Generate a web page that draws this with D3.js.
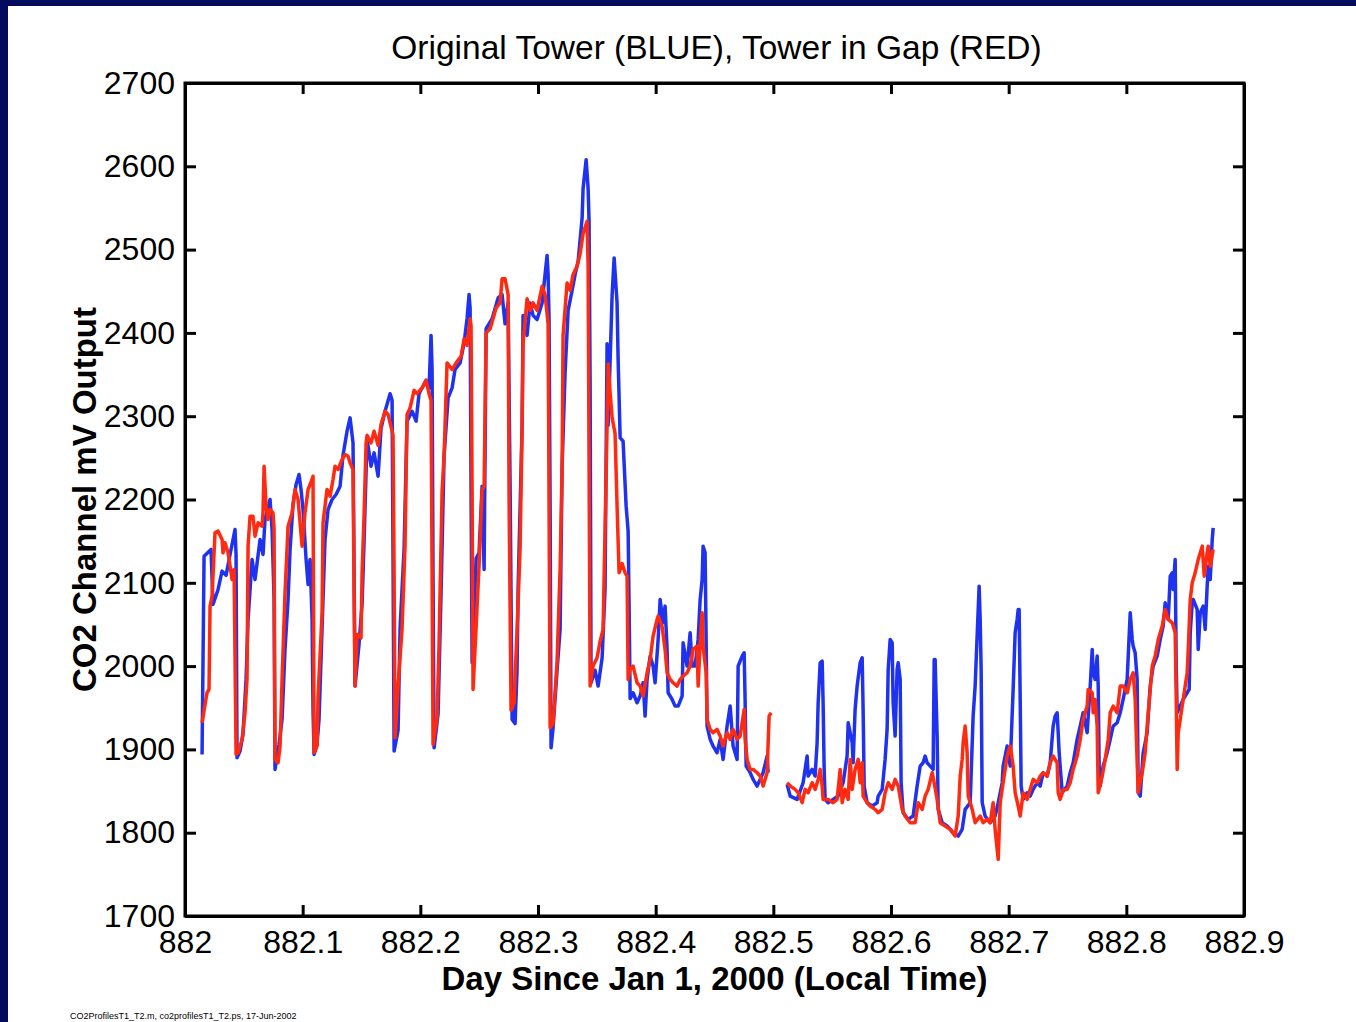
<!DOCTYPE html>
<html>
<head>
<meta charset="utf-8">
<script src="https://cdn.jsdelivr.net/npm/d3@7"></script>
<style>
  html, body { margin: 0; padding: 0; background: #020b5c; }
  svg { display: block; }
  text { font-family: "Liberation Sans", Arial, Helvetica, sans-serif; fill: #000; }
</style>
</head>
<body>
<svg id="chart" width="1356" height="1022"></svg>
<script>
// ---------------- DATA ----------------
const titleText = "Original Tower (BLUE), Tower in Gap (RED)";
const xLabel = "Day Since Jan 1, 2000 (Local Time)";
const yLabel = "CO2 Channel mV Output";
const footerText = "CO2ProfilesT1_T2.m, co2profilesT1_T2.ps, 17-Jun-2002";
const xTicks = [882, 882.1, 882.2, 882.3, 882.4, 882.5, 882.6, 882.7, 882.8, 882.9];
const xTickLabels = ["882", "882.1", "882.2", "882.3", "882.4", "882.5", "882.6", "882.7", "882.8", "882.9"];
const yTicks = [1700, 1800, 1900, 2000, 2100, 2200, 2300, 2400, 2500, 2600, 2700];
const xDomain = [882, 882.9];
const yDomain = [1700, 2700];

// Original Tower (BLUE): [day, mV]; null = no data
const blueSeries = [
[882.0145,1894],[882.0162,2132],[882.0221,2140],[882.0238,2074],[882.0281,2092],[882.0315,2114],[882.0349,2109],[882.0383,2134],[882.0425,2164],[882.0434,2134],
[882.0442,1890],[882.0468,1898],[882.0493,1918],[882.0519,1984],[882.0536,2056],[882.0570,2128],[882.0595,2104],[882.0638,2152],[882.0663,2134],[882.0680,2176],
[882.0723,2200],[882.0740,2164],[882.0757,2080],[882.0765,1876],[882.0799,1906],[882.0825,1936],[882.0850,2020],[882.0876,2080],[882.0893,2140],[882.0918,2194],
[882.0944,2218],[882.0969,2230],[882.0986,2212],[882.1003,2188],[882.1029,2128],[882.1046,2098],[882.1063,2128],[882.1080,2056],[882.1088,1948],[882.1097,1894],
[882.1122,1906],[882.1139,1936],[882.1156,2008],[882.1173,2080],[882.1190,2152],[882.1216,2188],[882.1250,2200],[882.1284,2206],[882.1318,2216],[882.1343,2253],
[882.1377,2282],[882.1403,2298],[882.1428,2268],[882.1437,2116],[882.1445,1976],[882.1479,2026],[882.1505,2075],[882.1522,2150],[882.1547,2273],[882.1581,2240],
[882.1607,2256],[882.1641,2228],[882.1666,2285],[882.1700,2306],[882.1743,2327],[882.1760,2319],[882.1768,2129],[882.1777,1898],[882.1811,1923],[882.1828,2046],
[882.1862,2141],[882.1887,2294],[882.1930,2306],[882.1964,2294],[882.1989,2327],[882.2049,2343],[882.2074,2334],[882.2091,2397],[882.2100,2356],[882.2108,2108],
[882.2117,1902],[882.2151,1943],[882.2176,2087],[882.2202,2253],[882.2236,2322],[882.2270,2334],[882.2295,2356],[882.2338,2364],[882.2372,2388],[882.2397,2417],
[882.2414,2446],[882.2423,2430],[882.2431,2211],[882.2440,2004],[882.2474,2129],[882.2499,2136],[882.2525,2216],[882.2542,2116],[882.2559,2405],[882.2610,2417],
[882.2661,2442],[882.2695,2446],[882.2720,2411],[882.2746,2436],[882.2763,2216],[882.2780,1936],[882.2805,1931],[882.2822,1995],[882.2831,2093],[882.2865,2289],
[882.2873,2421],[882.2907,2397],[882.2933,2436],[882.2958,2421],[882.2992,2416],[882.3035,2436],[882.3060,2470],[882.3077,2493],[882.3086,2470],[882.3094,2416],
[882.3103,2192],[882.3111,1902],[882.3128,1926],[882.3162,1995],[882.3188,2044],[882.3205,2240],[882.3230,2352],[882.3256,2427],[882.3290,2451],[882.3315,2470],
[882.3341,2486],[882.3375,2538],[882.3383,2573],[882.3409,2608],[882.3426,2573],[882.3434,2534],[882.3443,2338],[882.3451,1980],[882.3485,1995],[882.3511,1976],
[882.3545,2010],[882.3570,2093],[882.3587,2387],[882.3596,2289],[882.3630,2446],[882.3647,2490],[882.3672,2436],[882.3681,2368],[882.3698,2274],[882.3723,2270],
[882.3749,2192],[882.3766,2162],[882.3774,2074],[882.3783,1961],[882.3808,1968],[882.3842,1956],[882.3868,1964],[882.3893,1980],[882.3910,1940],[882.3927,1984],
[882.3953,2012],[882.3978,2000],[882.3995,1980],[882.4021,2032],[882.4038,2080],[882.4063,2052],[882.4080,2072],[882.4097,2020],[882.4106,1968],[882.4140,1960],
[882.4165,1952],[882.4191,1952],[882.4225,1964],[882.4233,2028],[882.4267,2000],[882.4293,2040],[882.4310,2000],[882.4335,2000],[882.4361,2032],[882.4378,2080],
[882.4395,2104],[882.4403,2144],[882.4420,2136],[882.4429,2032],[882.4437,1928],[882.4463,1912],[882.4488,1904],[882.4522,1896],[882.4548,1912],[882.4573,1888],
[882.4607,1928],[882.4633,1952],[882.4658,1904],[882.4692,1888],[882.4701,2000],[882.4735,2012],[882.4752,2016],[882.4760,1960],[882.4769,1880],[882.4803,1872],
[882.4828,1864],[882.4862,1856],[882.4888,1864],[882.4913,1872],[882.4947,1892],[882.4956,1872],[882.5030,null],
[882.5117,1858],[882.5143,1844],[882.5202,1840],[882.5253,1860],[882.5287,1892],[882.5296,1868],[882.5330,1876],[882.5355,1868],[882.5372,1908],[882.5381,1956],
[882.5398,2004],[882.5415,2006],[882.5423,1956],[882.5432,1876],[882.5440,1840],[882.5466,1836],[882.5508,1840],[882.5551,1844],[882.5593,1860],[882.5627,1892],
[882.5636,1932],[882.5670,1908],[882.5678,1884],[882.5695,1948],[882.5712,1976],[882.5738,2004],[882.5755,2010],[882.5763,1948],[882.5772,1856],[882.5797,1836],
[882.5840,1832],[882.5882,1836],[882.5891,1844],[882.5925,1852],[882.5950,1888],[882.5967,1924],[882.5976,1996],[882.5993,2032],[882.6010,2028],[882.6018,1956],
[882.6035,1916],[882.6052,1996],[882.6061,2004],[882.6078,1984],[882.6086,1860],[882.6103,1824],[882.6146,1816],[882.6188,1820],[882.6222,1856],[882.6248,1880],
[882.6273,1884],[882.6290,1892],[882.6307,1884],[882.6333,1880],[882.6358,1876],[882.6367,2008],[882.6375,2008],[882.6392,1916],[882.6401,1828],[882.6435,1812],
[882.6477,1808],[882.6528,1800],[882.6571,1796],[882.6605,1804],[882.6630,1828],[882.6673,1836],[882.6698,1940],[882.6715,1976],[882.6732,2036],[882.6749,2096],
[882.6758,2056],[882.6766,1996],[882.6775,1836],[882.6800,1820],[882.6843,1812],[882.6885,1820],[882.6911,1836],[882.6945,1860],[882.6953,1880],[882.6987,1904],
[882.7013,1880],[882.7038,1972],[882.7055,2040],[882.7072,2056],[882.7081,2068],[882.7089,2068],[882.7098,1960],[882.7106,1856],[882.7123,1840],[882.7157,1848],
[882.7183,1844],[882.7208,1852],[882.7242,1860],[882.7268,1856],[882.7293,1872],[882.7327,1868],[882.7353,1884],[882.7378,1928],[882.7395,1940],[882.7412,1944],
[882.7421,1920],[882.7429,1896],[882.7455,1848],[882.7497,1856],[882.7523,1872],[882.7548,1884],[882.7582,1912],[882.7608,1928],[882.7633,1944],[882.7667,1920],
[882.7693,1976],[882.7710,2020],[882.7718,1992],[882.7735,1984],[882.7752,2012],[882.7761,1976],[882.7769,1880],[882.7778,1856],[882.7803,1880],[882.7837,1896],
[882.7863,1912],[882.7888,1928],[882.7922,1932],[882.7948,1944],[882.7973,1960],[882.8007,1984],[882.8033,2064],[882.8050,2032],[882.8058,2024],[882.8075,2016],
[882.8092,1984],[882.8101,1848],[882.8118,1844],[882.8143,1896],[882.8177,1920],[882.8203,1976],[882.8228,2000],[882.8262,2012],[882.8288,2032],[882.8313,2048],
[882.8330,2076],[882.8356,2056],[882.8373,2108],[882.8390,2112],[882.8398,2092],[882.8415,2128],[882.8424,2000],[882.8432,1944],[882.8458,1952],[882.8483,1960],
[882.8517,1968],[882.8534,1972],[882.8543,2040],[882.8560,2076],[882.8568,2080],[882.8602,2068],[882.8611,2020],[882.8628,2064],[882.8653,2072],[882.8670,2044],
[882.8687,2096],[882.8696,2120],[882.8713,2104],[882.8730,2152],[882.8738,2166]
];

// Tower in Gap (RED): [day, mV]; null = no data
const redSeries = [
[882.0145,1932],[882.0187,1968],[882.0204,1972],[882.0213,2072],[882.0230,2084],[882.0255,2160],[882.0281,2162],[882.0315,2152],[882.0323,2136],[882.0340,2148],
[882.0366,2136],[882.0400,2104],[882.0417,2116],[882.0425,2012],[882.0434,1894],[882.0451,1896],[882.0485,1912],[882.0510,1944],[882.0527,1984],[882.0536,2144],
[882.0553,2180],[882.0578,2180],[882.0595,2156],[882.0621,2172],[882.0655,2168],[882.0663,2184],[882.0672,2240],[882.0689,2192],[882.0706,2176],[882.0723,2188],
[882.0748,2184],[882.0757,2164],[882.0765,1888],[882.0791,1884],[882.0808,1904],[882.0825,1984],[882.0850,2088],[882.0876,2168],[882.0910,2184],[882.0935,2212],
[882.0961,2200],[882.0995,2144],[882.1020,2184],[882.1046,2212],[882.1080,2224],[882.1088,2228],[882.1097,1896],[882.1122,1904],[882.1131,1964],[882.1165,2064],
[882.1173,2172],[882.1207,2212],[882.1233,2204],[882.1258,2224],[882.1275,2240],[882.1301,2236],[882.1335,2248],[882.1360,2254],[882.1386,2252],[882.1403,2244],
[882.1428,2236],[882.1437,2087],[882.1445,1976],[882.1462,2038],[882.1496,2034],[882.1505,2112],[882.1522,2182],[882.1539,2268],[882.1547,2277],[882.1581,2268],
[882.1607,2282],[882.1641,2265],[882.1666,2290],[882.1700,2306],[882.1726,2302],[882.1760,2282],[882.1768,2277],[882.1777,2112],[882.1785,1914],[882.1811,1976],
[882.1845,2046],[882.1870,2145],[882.1887,2302],[882.1913,2310],[882.1947,2331],[882.1972,2327],[882.2015,2334],[882.2049,2343],[882.2074,2327],[882.2091,2319],
[882.2100,2108],[882.2108,1906],[882.2142,1938],[882.2159,2026],[882.2185,2211],[882.2202,2253],[882.2227,2364],[882.2270,2356],[882.2304,2364],[882.2346,2372],
[882.2372,2393],[882.2397,2385],[882.2423,2417],[882.2431,2409],[882.2440,2211],[882.2448,1972],[882.2474,2046],[882.2499,2121],[882.2525,2211],[882.2542,2216],
[882.2559,2400],[882.2593,2405],[882.2644,2430],[882.2678,2436],[882.2695,2465],[882.2720,2465],[882.2746,2446],[882.2754,2201],[882.2771,1947],[882.2797,1956],
[882.2822,2044],[882.2848,2142],[882.2865,2289],[882.2873,2387],[882.2907,2441],[882.2933,2427],[882.2958,2436],[882.2992,2427],[882.3035,2456],[882.3060,2446],
[882.3086,2411],[882.3094,2192],[882.3103,1926],[882.3128,1931],[882.3162,2006],[882.3188,2117],[882.3205,2240],[882.3213,2397],[882.3247,2460],[882.3273,2451],
[882.3298,2470],[882.3332,2480],[882.3358,2495],[882.3383,2519],[882.3417,2534],[882.3426,2480],[882.3434,2240],[882.3443,1976],[882.3468,2000],[882.3502,2010],
[882.3528,2030],[882.3553,2044],[882.3570,2166],[882.3587,2289],[882.3596,2363],[882.3613,2328],[882.3630,2298],[882.3655,2279],[882.3672,2192],[882.3689,2112],
[882.3715,2123],[882.3740,2112],[882.3757,2108],[882.3766,1984],[882.3783,1996],[882.3808,2000],[882.3842,1980],[882.3868,1976],[882.3893,1964],[882.3927,1992],
[882.3953,2008],[882.3978,2036],[882.4012,2056],[882.4021,2060],[882.4054,2048],[882.4080,2020],[882.4097,1992],[882.4123,1984],[882.4148,1980],[882.4182,1976],
[882.4208,1984],[882.4233,1988],[882.4267,1992],[882.4293,2000],[882.4318,2020],[882.4352,2024],[882.4361,1976],[882.4378,2028],[882.4395,2064],[882.4403,2024],
[882.4429,1992],[882.4437,1936],[882.4463,1924],[882.4488,1920],[882.4522,1924],[882.4548,1916],[882.4573,1904],[882.4607,1920],[882.4633,1912],[882.4658,1924],
[882.4692,1912],[882.4718,1916],[882.4752,1948],[882.4760,1912],[882.4777,1888],[882.4803,1876],[882.4828,1876],[882.4862,1872],[882.4888,1868],[882.4913,1856],
[882.4947,1872],[882.4964,1940],[882.4981,1944],[882.5040,null],
[882.5117,1860],[882.5143,1856],[882.5185,1852],[882.5211,1848],[882.5245,1836],[882.5270,1852],[882.5296,1848],[882.5330,1860],[882.5355,1852],[882.5381,1864],
[882.5398,1876],[882.5415,1856],[882.5423,1840],[882.5466,1840],[882.5508,1836],[882.5542,1840],[882.5568,1876],[882.5585,1836],[882.5610,1852],[882.5636,1840],
[882.5653,1888],[882.5670,1852],[882.5695,1876],[882.5721,1888],[882.5738,1860],[882.5755,1884],[882.5763,1844],[882.5797,1836],[882.5823,1832],[882.5865,1828],
[882.5891,1824],[882.5925,1828],[882.5950,1848],[882.5976,1860],[882.6010,1852],[882.6035,1864],[882.6061,1856],[882.6095,1828],[882.6120,1820],[882.6163,1812],
[882.6205,1812],[882.6231,1836],[882.6265,1828],[882.6290,1844],[882.6316,1852],[882.6350,1872],[882.6367,1860],[882.6392,1840],[882.6418,1812],[882.6460,1808],
[882.6503,1804],[882.6545,1796],[882.6571,1820],[882.6588,1868],[882.6605,1888],[882.6613,1908],[882.6630,1928],[882.6647,1896],[882.6656,1844],[882.6690,1828],
[882.6715,1812],[882.6758,1820],[882.6783,1812],[882.6817,1816],[882.6843,1812],[882.6868,1836],[882.6885,1804],[882.6902,1780],[882.6911,1768],[882.6928,1836],
[882.6953,1860],[882.6987,1892],[882.7013,1904],[882.7038,1880],[882.7055,1848],[882.7081,1832],[882.7098,1820],[882.7123,1848],[882.7157,1840],[882.7183,1852],
[882.7208,1864],[882.7242,1860],[882.7268,1868],[882.7293,1872],[882.7327,1868],[882.7353,1884],[882.7378,1892],[882.7412,1884],[882.7421,1848],[882.7438,1840],
[882.7463,1852],[882.7497,1852],[882.7523,1860],[882.7548,1876],[882.7582,1892],[882.7608,1912],[882.7633,1936],[882.7667,1952],[882.7676,1972],[882.7710,1968],
[882.7718,1944],[882.7735,1960],[882.7752,1928],[882.7761,1848],[882.7795,1868],[882.7820,1888],[882.7846,1912],[882.7863,1944],[882.7888,1952],[882.7922,1944],
[882.7948,1976],[882.7973,1976],[882.8007,1968],[882.8033,1984],[882.8058,1992],[882.8075,1960],[882.8092,1884],[882.8101,1848],[882.8135,1872],[882.8160,1896],
[882.8186,1944],[882.8220,2000],[882.8245,2012],[882.8271,2032],[882.8305,2048],[882.8330,2068],[882.8356,2056],[882.8390,2052],[882.8415,2040],[882.8424,1960],
[882.8432,1876],[882.8441,1920],[882.8458,1936],[882.8483,1960],[882.8517,1992],[882.8526,2020],[882.8543,2080],[882.8560,2100],[882.8585,2112],[882.8611,2128],
[882.8645,2144],[882.8662,2108],[882.8687,2136],[882.8696,2144],[882.8713,2120],[882.8738,2140]
];

// ---------------- DRAW ----------------
const W = 1356, H = 1022;
const plot = { left: 185, right: 1244, top: 83, bottom: 916 };

const svg = d3.select("#chart");
svg.append("rect").attr("x", 0).attr("y", 0).attr("width", W).attr("height", H).attr("fill", "#020b5c");
svg.append("rect").attr("x", 8).attr("y", 6).attr("width", W - 8).attr("height", H - 6).attr("fill", "#ffffff");

const x = d3.scaleLinear().domain(xDomain).range([plot.left, plot.right]);
const y = d3.scaleLinear().domain(yDomain).range([plot.bottom, plot.top]);

svg.append("clipPath").attr("id", "clip")
  .append("rect").attr("x", plot.left).attr("y", plot.top)
  .attr("width", plot.right - plot.left).attr("height", plot.bottom - plot.top);

const line = d3.line()
  .defined(d => d[1] !== null)
  .x(d => x(d[0]))
  .y(d => y(d[1]));

const g = svg.append("g").attr("clip-path", "url(#clip)");
g.append("path").datum(blueSeries)
  .attr("fill", "none").attr("stroke", "#1f32f0").attr("stroke-width", 3.5)
  .attr("stroke-linejoin", "round").attr("d", line);
g.append("path").datum(redSeries)
  .attr("fill", "none").attr("stroke", "#ff2a10").attr("stroke-width", 3.5)
  .attr("stroke-linejoin", "round").attr("d", line);

// Axes (ticks inward on all four sides)
const tickLen = 11;
const fontTick = 32;
const axBottom = d3.axisBottom(x).tickValues(xTicks).tickSize(-tickLen).tickSizeOuter(0)
  .tickFormat((d, i) => xTickLabels[i]).tickPadding(14);
const axTop = d3.axisTop(x).tickValues(xTicks).tickSize(-tickLen).tickSizeOuter(0).tickFormat("");
const axLeft = d3.axisLeft(y).tickValues(yTicks).tickSize(-tickLen).tickSizeOuter(0)
  .tickFormat(d3.format("d")).tickPadding(10);
const axRight = d3.axisRight(y).tickValues(yTicks).tickSize(-tickLen).tickSizeOuter(0).tickFormat("");

function styleAxis(sel) {
  sel.select(".domain").attr("stroke", "#000").attr("stroke-width", 3);
  sel.selectAll(".tick line").attr("stroke", "#000").attr("stroke-width", 3);
  sel.selectAll(".tick text").attr("fill", "#000")
    .style("font-family", '"Liberation Sans", Arial, Helvetica, sans-serif')
    .style("font-size", fontTick + "px");
}
svg.append("g").attr("transform", `translate(0,${plot.bottom})`).call(axBottom).call(styleAxis);
svg.append("g").attr("transform", `translate(0,${plot.top})`).call(axTop).call(styleAxis);
svg.append("g").attr("transform", `translate(${plot.left},0)`).call(axLeft).call(styleAxis);
svg.append("g").attr("transform", `translate(${plot.right},0)`).call(axRight).call(styleAxis);

// frame
svg.append("rect").attr("x", plot.left).attr("y", plot.top)
  .attr("width", plot.right - plot.left).attr("height", plot.bottom - plot.top)
  .attr("fill", "none").attr("stroke", "#000").attr("stroke-width", 3);

// Title
svg.append("text").attr("x", (plot.left + plot.right) / 2 + 2).attr("y", 59)
  .attr("text-anchor", "middle").style("font-size", "33.5px").text(titleText);

// X label
svg.append("text").attr("x", (plot.left + plot.right) / 2).attr("y", 990)
  .attr("text-anchor", "middle").style("font-size", "33px").style("font-weight", "bold").text(xLabel);

// Y label
svg.append("text").attr("transform", `translate(96,${(plot.top + plot.bottom) / 2}) rotate(-90)`)
  .attr("text-anchor", "middle").style("font-size", "33px").style("font-weight", "bold").text(yLabel);

// Footer
svg.append("text").attr("x", 70).attr("y", 1019)
  .style("font-size", "9px").text(footerText);
</script>
</body>
</html>
